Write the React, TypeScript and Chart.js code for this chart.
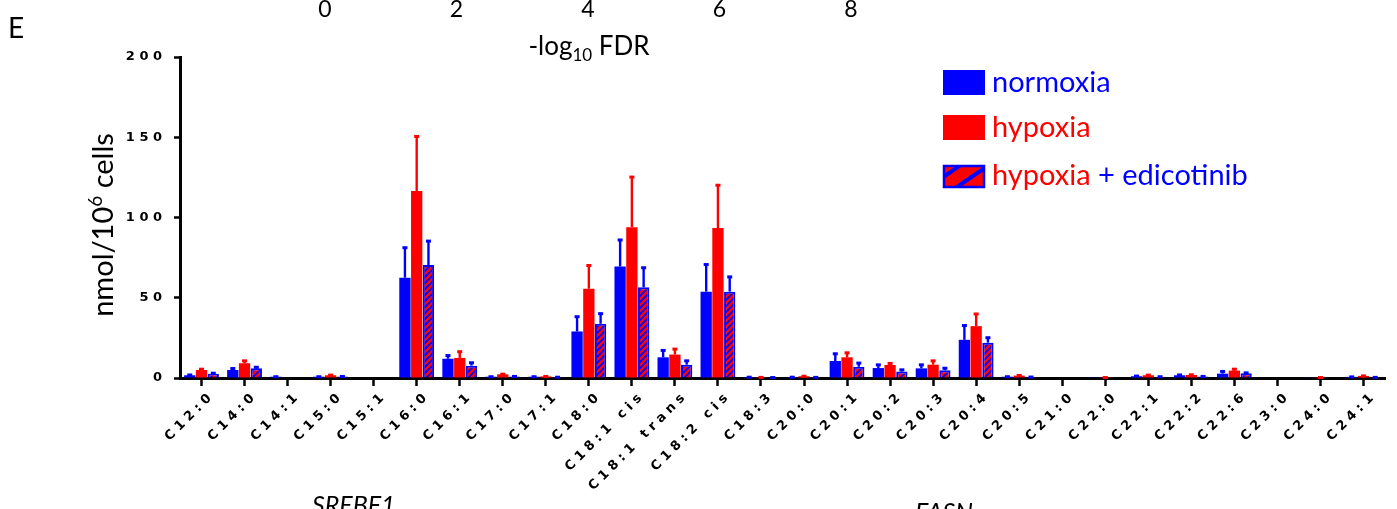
import React, { useEffect, useRef } from 'react';
import { Chart, registerables } from 'chart.js';

Chart.register(...registerables);

const categories = ['C12:0', 'C14:0', 'C14:1', 'C15:0', 'C15:1', 'C16:0', 'C16:1', 'C17:0', 'C17:1', 'C18:0', 'C18:1 cis', 'C18:1 trans', 'C18:2 cis', 'C18:3', 'C20:0', 'C20:1', 'C20:2', 'C20:3', 'C20:4', 'C20:5', 'C21:0', 'C22:0', 'C22:1', 'C22:2', 'C22:6', 'C23:0', 'C24:0', 'C24:1'];

const normoxia = [1.7, 5, 0.8, 0.8, 0, 62.5, 12, 0.8, 0.8, 29, 69.5, 12.9, 53.8, 0.6, 0.6, 10.6, 6.2, 6, 23.8, 0.8, 0, 0.2, 1.1, 1.7, 2.7, 0, 0.2, 0.7];
const normoxiaErr = [0.5, 1.2, 0.3, 0.3, 0, 19, 2.3, 0.3, 0.3, 9.5, 16.8, 4.6, 17.2, 0.2, 0.2, 4.8, 2.3, 2.5, 9.2, 0.3, 0, 0, 0.4, 0.5, 1.7, 0, 0, 0.3];

const hypoxia = [5, 9.2, 0.3, 1.7, 0, 116.5, 12.5, 2.3, 1, 55.6, 94, 14.6, 93.4, 0.5, 1.1, 12.9, 8.1, 8.3, 32.3, 1.5, 0, 0.5, 1.7, 1.9, 4.6, 0, 0.5, 1.3];
const hypoxiaErr = [0.8, 1.8, 0, 0.4, 0, 34.3, 4.2, 0.4, 0.3, 14.8, 31.5, 3.7, 27, 0.2, 0.3, 3.1, 1.3, 2.7, 7.9, 0.4, 0, 0.1, 0.4, 0.4, 1.2, 0, 0.1, 0.3];

const edicotinib = [2.7, 6, 0.2, 1, 0, 70.4, 7.7, 1, 0.6, 33.8, 56.5, 8.3, 53.8, 0.5, 0.6, 7, 4, 4.8, 22, 0.7, 0, 0, 0.8, 1, 2.9, 0, 0, 0.5];
const edicotinibErr = [0.6, 1, 0, 0.3, 0, 15.2, 2.1, 0.3, 0.2, 6.6, 12.5, 2.7, 9.5, 0.1, 0.1, 2.6, 1.4, 1.6, 3.4, 0.2, 0, 0, 0.3, 0.3, 0.6, 0, 0, 0.2];

const yTicks = [0, 50, 100, 150, 200];
const topAxisTicks = ['0', '2', '4', '6', '8'];

const BLUE = '#0000ff';
const RED = '#ff0000';

const spaced = (s: string) => s.split('').join(' ');

function makePattern(): CanvasPattern | string {
  const p = document.createElement('canvas');
  p.width = 6;
  p.height = 6;
  const c = p.getContext('2d');
  if (!c) return RED;
  c.fillStyle = RED;
  c.fillRect(0, 0, 6, 6);
  c.strokeStyle = BLUE;
  c.lineWidth = 1.7;
  c.beginPath();
  c.moveTo(-1, 7);
  c.lineTo(7, -1);
  c.moveTo(-1, 1);
  c.lineTo(1, -1);
  c.moveTo(5, 7);
  c.lineTo(7, 5);
  c.stroke();
  const pat = c.createPattern(p, 'repeat');
  return pat || RED;
}

const errors = [normoxiaErr, hypoxiaErr, edicotinibErr];
const errColors = [BLUE, RED, BLUE];

const errorBarPlugin = {
  id: 'errorBars',
  afterDatasetsDraw(chart: any) {
    const ctx = chart.ctx;
    const yScale = chart.scales.y;
    ctx.save();
    chart.data.datasets.forEach((ds: any, i: number) => {
      const meta = chart.getDatasetMeta(i);
      meta.data.forEach((el: any, j: number) => {
        const err = errors[i][j];
        if (!err) return;
        const v = ds.data[j];
        const yTop = yScale.getPixelForValue(v);
        const yErr = yScale.getPixelForValue(v + err);
        ctx.strokeStyle = errColors[i];
        ctx.fillStyle = errColors[i];
        ctx.lineWidth = 2.4;
        ctx.beginPath();
        ctx.moveTo(el.x, yTop);
        ctx.lineTo(el.x, yErr);
        ctx.stroke();
        ctx.fillRect(el.x - 2.5, yErr - 1, 5, 3);
      });
    });
    ctx.restore();
  },
};

const textPlugin = {
  id: 'texts',
  afterDraw(chart: any) {
    const ctx: CanvasRenderingContext2D = chart.ctx;
    ctx.save();
    ctx.textBaseline = 'alphabetic';
    // panel letter
    ctx.fillStyle = '#000';
    ctx.font = '28px Lato';
    ctx.textAlign = 'left';
    ctx.fillText('E', 8, 38);

    // cropped top axis of neighbouring panel
    ctx.font = '23px Lato';
    ctx.textAlign = 'center';
    topAxisTicks.forEach((t, i) => {
      ctx.fillText(t, 325 + i * 131.5, 17);
    });
    // -log10 FDR
    ctx.textAlign = 'left';
    const parts: [string, string, number][] = [
      ['-log', '26px Lato', 0],
      ['10', '17px Lato', 6],
      [' FDR', '26px Lato', 0],
    ];
    let w = 0;
    parts.forEach(([t, f]) => { ctx.font = f; w += ctx.measureText(t).width; });
    let x = 589 - w / 2;
    parts.forEach(([t, f, dy]) => { ctx.font = f; ctx.fillText(t, x, 55 + dy); x += ctx.measureText(t).width; });

    // y axis title
    ctx.save();
    ctx.translate(113, 225);
    ctx.rotate(-Math.PI / 2);
    const yparts: [string, string, number][] = [
      ['nmol/10', '29px Lato', 0],
      ['6', '19px Lato', -11],
      [' cells', '29px Lato', 0],
    ];
    w = 0;
    yparts.forEach(([t, f]) => { ctx.font = f; w += ctx.measureText(t).width; });
    x = -w / 2;
    yparts.forEach(([t, f, dy]) => { ctx.font = f; ctx.fillText(t, x, dy); x += ctx.measureText(t).width; });
    ctx.restore();

    // legend
    const lx = 943;
    ctx.fillStyle = BLUE;
    ctx.fillRect(lx, 70, 42, 25);
    ctx.fillStyle = RED;
    ctx.fillRect(lx, 115, 42, 25);
    // hatched box
    ctx.save();
    ctx.beginPath();
    ctx.rect(lx, 165, 42, 23);
    ctx.clip();
    ctx.fillStyle = RED;
    ctx.fillRect(lx, 165, 42, 23);
    ctx.strokeStyle = BLUE;
    ctx.lineWidth = 4;
    ctx.beginPath();
    ctx.moveTo(lx - 4, 180);
    ctx.lineTo(lx + 22, 162);
    ctx.moveTo(lx + 8, 191);
    ctx.lineTo(lx + 46, 165);
    ctx.stroke();
    ctx.restore();
    ctx.strokeStyle = BLUE;
    ctx.lineWidth = 2.5;
    ctx.strokeRect(lx + 1, 166, 40, 21);

    ctx.font = '29px Lato';
    ctx.textAlign = 'left';
    const tx = 992;
    ctx.fillStyle = BLUE;
    ctx.fillText('normoxia', tx, 92);
    ctx.fillStyle = RED;
    ctx.fillText('hypoxia', tx, 137);
    ctx.fillText('hypoxia', tx, 185);
    const hw = ctx.measureText('hypoxia').width;
    ctx.fillStyle = BLUE;
    ctx.fillText(' + edicotinib', tx + hw, 185);

    // cropped gene names below
    ctx.fillStyle = '#000';
    ctx.font = 'italic 25px Lato';
    ctx.fillText('SREBF1', 312, 514);
    ctx.fillText('FASN', 915, 521);
    ctx.restore();
  },
};

export default function App() {
  const ref = useRef<HTMLCanvasElement | null>(null);

  useEffect(() => {
    const canvas = ref.current;
    if (!canvas) return;
    const pattern = makePattern();
    const tickFont = { family: "'DejaVu Sans', sans-serif", weight: 'bold' as const, size: 13 };
    const chart = new Chart(canvas, {
      type: 'bar',
      data: {
        labels: categories,
        datasets: [
          { label: 'normoxia', data: normoxia, backgroundColor: BLUE, borderWidth: 0 },
          { label: 'hypoxia', data: hypoxia, backgroundColor: RED, borderWidth: 0 },
          { label: 'hypoxia + edicotinib', data: edicotinib, backgroundColor: pattern as any, borderColor: BLUE, borderWidth: 2 },
        ],
      },
      options: {
        animation: false,
        responsive: false,
        events: [],
        layout: { padding: { top: 57, right: 12, bottom: 0, left: 0 } },
        datasets: { bar: { categoryPercentage: 0.82, barPercentage: 0.96 } },
        plugins: { legend: { display: false }, tooltip: { enabled: false }, title: { display: false } },
        scales: {
          x: {
            type: 'category',
            offset: true,
            grid: { offset: false, drawOnChartArea: false, drawTicks: true, tickLength: 8, tickWidth: 2.5, tickColor: '#000' },
            border: { display: true, color: '#000', width: 3 },
            ticks: {
              autoSkip: false,
              minRotation: 45,
              maxRotation: 45,
              padding: 5,
              labelOffset: 8,
              color: '#000',
              font: tickFont,
              callback: (_v: any, i: number) => spaced(categories[i]),
            },
            afterFit: (s: any) => { s.height = 131; },
          },
          y: {
            min: 0,
            max: 200,
            afterBuildTicks: (s: any) => { s.ticks = yTicks.map((v) => ({ value: v })); },
            grid: { drawOnChartArea: false, drawTicks: true, tickLength: 6, tickWidth: 2.5, tickColor: '#000' },
            border: { display: true, color: '#000', width: 3 },
            ticks: {
              padding: 12,
              color: '#000',
              font: tickFont,
              callback: (v: any) => spaced(String(v)),
            },
            afterFit: (s: any) => { s.width = 180; },
          },
        },
      },
      plugins: [errorBarPlugin, textPlugin],
    });
    return () => chart.destroy();
  }, []);

  return (
    <div style={{ position: 'fixed', left: 0, top: 0, width: 1397, height: 509, background: '#fff' }}>
      <canvas ref={ref} width={1397} height={509} style={{ display: 'block' }} />
    </div>
  );
}
